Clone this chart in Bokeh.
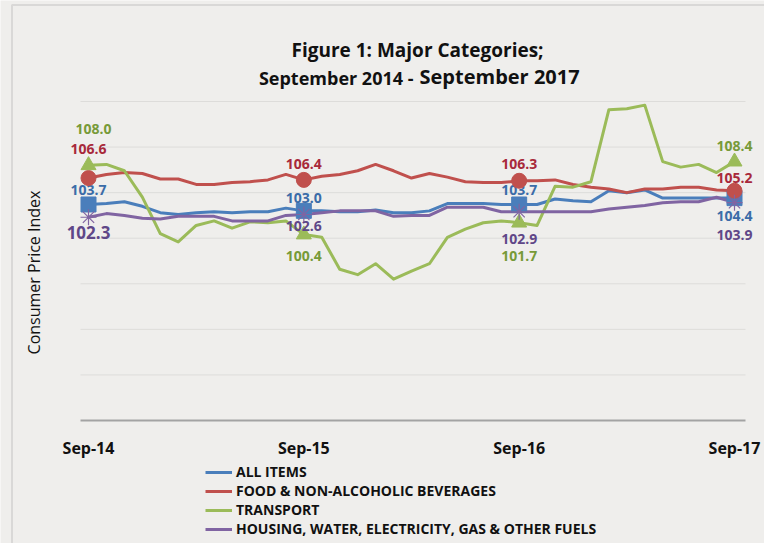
from math import pi
from bokeh.plotting import figure
from bokeh.models import Range1d, Label, Legend, LegendItem, BoxAnnotation, ColumnDataSource
from bokeh.core.properties import value
from bokeh.embed import file_html
from bokeh.resources import INLINE

# ---------------- data ----------------
months = ["Sep-14", "Oct-14", "Nov-14", "Dec-14", "Jan-15", "Feb-15", "Mar-15",
          "Apr-15", "May-15", "Jun-15", "Jul-15", "Aug-15", "Sep-15", "Oct-15",
          "Nov-15", "Dec-15", "Jan-16", "Feb-16", "Mar-16", "Apr-16", "May-16",
          "Jun-16", "Jul-16", "Aug-16", "Sep-16", "Oct-16", "Nov-16", "Dec-16",
          "Jan-17", "Feb-17", "Mar-17", "Apr-17", "May-17", "Jun-17", "Jul-17",
          "Aug-17", "Sep-17"]

all_items = [103.7, 103.8, 104.0, 103.5, 102.8, 102.6, 102.8, 102.9, 102.8, 102.9,
             102.9, 103.3, 103.0, 103.0, 102.9, 102.9, 103.1, 102.8, 102.8, 103.0,
             103.8, 103.8, 103.8, 103.7, 103.7, 103.7, 104.3, 104.1, 104.0, 105.2,
             105.0, 105.3, 104.4, 104.4, 104.4, 104.4, 104.4]

food = [106.6, 107.0, 107.2, 107.1, 106.5, 106.5, 105.9, 105.9, 106.1, 106.2,
        106.4, 107.0, 106.4, 106.8, 107.0, 107.4, 108.1, 107.4, 106.6, 107.1,
        106.7, 106.2, 106.1, 106.1, 106.3, 106.3, 106.4, 105.9, 105.6, 105.4,
        105.0, 105.4, 105.4, 105.6, 105.6, 105.3, 105.2]

transport = [108.0, 108.1, 107.4, 104.5, 100.5, 99.6, 101.4, 101.9, 101.1, 101.8,
             101.7, 101.9, 100.4, 100.1, 96.6, 96.0, 97.2, 95.5, 96.4, 97.2,
             100.1, 101.0, 101.7, 101.9, 101.7, 101.4, 105.7, 105.6, 106.2, 114.1,
             114.2, 114.6, 108.4, 107.8, 108.1, 107.2, 108.4]

housing = [102.3, 102.7, 102.5, 102.2, 102.1, 102.4, 102.4, 102.4, 101.9, 101.9,
           101.9, 102.5, 102.6, 102.8, 103.0, 103.0, 103.0, 102.4, 102.5, 102.5,
           103.4, 103.4, 103.4, 102.9, 102.9, 102.9, 102.9, 102.9, 102.9, 103.2,
           103.4, 103.6, 103.9, 104.0, 104.0, 104.5, 103.9]

series_names = ["ALL ITEMS", "FOOD & NON-ALCOHOLIC BEVERAGES", "TRANSPORT",
                "HOUSING, WATER, ELECTRICITY, GAS & OTHER FUELS"]
tick_months = ["Sep-14", "Sep-15", "Sep-16", "Sep-17"]
y_ticks = [85, 90, 95, 100, 105, 110, 115]
y_min, y_max = 80, 115

# ---------------- layout / styles ----------------
W, H = 764, 543
PLOT_L, PLOT_R, PLOT_T, PLOT_B = 80, 745, 101, 420   # plot area in pixels
X0_PX, X1_PX = 88, 734                                # first / last month centre
BG = "#EFEEEC"
TXT = "#111111"
line_colors = ["#4A7EBB", "#C0504D", "#9BBB59", "#8064A2"]
label_colors = ["#3B6CA8", "#A8293B", "#779A38", "#5F4788"]
markers = ["square", "circle", "triangle", "asterisk"]
# data-label pixel offsets (x_off, y_off, font px) per series per marked month
label_style = [
    [(0, -14, 14), (0, -13, 14), (0, -14, 14), (0, 18, 14)],
    [(0, -29, 14), (0, -16, 14), (0, -17, 14), (0, -13, 14)],
    [(5, -36, 14), (0, 21, 14), (0, 33, 14), (0, -16, 14)],
    [(0, 15, 17), (0, 11, 14), (0, 27, 14), (0, 32, 14)],
]

n = len(months)
x = list(range(n))
mark_idx = [months.index(m) for m in tick_months]

xs = (X1_PX - X0_PX) / (n - 1)               # px per month
ys = (PLOT_B - PLOT_T) / (y_max - y_min)      # px per index point
x_range = Range1d(-X0_PX / xs, (n - 1) + (W - X1_PX) / xs)
y_range = Range1d(y_min - (H - PLOT_B) / ys, y_max + PLOT_T / ys)
gx0 = (PLOT_L - X0_PX) / xs
gx1 = (n - 1) + (PLOT_R - X1_PX) / xs

p = figure(width=W, height=H, output_backend="svg", toolbar_location=None,
           x_range=x_range, y_range=y_range, min_border=0,
           min_border_left=0, min_border_right=0, min_border_top=0,
           min_border_bottom=0)
p.title.visible = False
p.xaxis.visible = False
p.yaxis.visible = False
p.grid.visible = False
p.background_fill_color = BG
p.border_fill_color = BG
p.outline_line_color = None

# gridlines and category axis line
p.segment(x0=[gx0] * len(y_ticks), x1=[gx1] * len(y_ticks), y0=y_ticks, y1=y_ticks,
          line_color="#DDDCDA", line_width=1)
p.segment(x0=[gx0], x1=[gx1], y0=[y_min], y1=[y_min], line_color="#A3A3A3",
          line_width=2)
p.text(x=mark_idx, y=[y_min] * len(mark_idx), text=tick_months, y_offset=27,
       text_font=value("Open Sans"), text_font_style="bold",
       text_font_size=value("16px"), text_color=TXT, text_align="center",
       text_baseline="middle")

renderers = []
for k, vals in enumerate([all_items, food, transport, housing]):
    r = p.line(x, vals, line_color=line_colors[k], line_width=3, line_join="round")
    renderers.append(r)

for k, vals in enumerate([all_items, food, transport, housing]):
    mx = mark_idx
    my = [vals[i] for i in mark_idx]
    if markers[k] == "asterisk":
        p.scatter(mx, my, marker="asterisk", size=16, line_color=line_colors[k],
                  line_width=1.2)
    else:
        p.scatter(mx, my, marker=markers[k], size=15, fill_color=line_colors[k],
                  line_color=line_colors[k])
    src = ColumnDataSource(dict(
        x=mx, y=my, text=["%.1f" % v for v in my],
        xo=[s[0] for s in label_style[k]], yo=[s[1] for s in label_style[k]],
        fs=["%dpx" % s[2] for s in label_style[k]]))
    p.text(x="x", y="y", text="text", x_offset="xo", y_offset="yo", source=src,
           text_font=value("Open Sans"), text_font_style="bold",
           text_font_size="fs", text_color=label_colors[k],
           text_align="center", text_baseline="middle")

# legend: location is its bottom-left corner (screen px from left / bottom)
legend = Legend(items=[LegendItem(label=series_names[k], renderers=[renderers[k]])
                       for k in range(4)],
                location=(205, 5), orientation="vertical",
                label_text_font="Open Sans", label_text_font_style="bold",
                label_text_font_size="14px", label_text_color=TXT,
                glyph_width=27, glyph_height=16, label_height=16, spacing=0,
                padding=0, margin=0, label_standoff=4,
                border_line_color=None, background_fill_alpha=0)
p.add_layout(legend)

# titles (screen units: from left, and up from the bottom)
def lab(text, cx, cy, size, align="center", style="bold", angle=0):
    p.add_layout(Label(x=cx, y=H - cy, x_units="screen", y_units="screen",
                       text=text, text_align=align, text_baseline="middle",
                       text_font="Open Sans", text_font_style=style,
                       text_font_size=size, text_color=TXT, angle=angle))

lab("Figure 1: Major Categories;", 417, 49, "19px")
lab("September 2014 -", 413, 77, "18px", align="right")
lab("September 2017", 419, 76, "20px", align="left")
lab("Consumer Price Index", 33, 272, "16px", style="normal", angle=pi / 2)

# outer chart border (left and top edges visible)
p.add_layout(BoxAnnotation(left=11.5, right=W + 20, top=H - 4.5, bottom=-20,
                           left_units="screen", right_units="screen",
                           top_units="screen", bottom_units="screen",
                           fill_alpha=0, line_color="#A6A6A6", line_width=2))

open("out.html", "w").write(file_html(p, INLINE))
